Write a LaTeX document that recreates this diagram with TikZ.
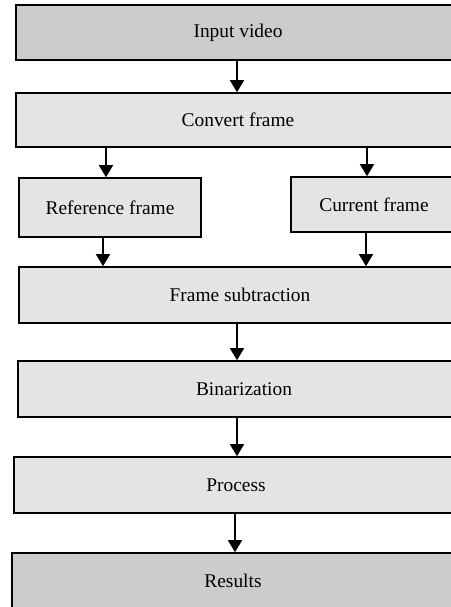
\documentclass[tikz,border=0pt]{standalone}
\usepackage{fontspec}
\setmainfont{Liberation Serif}
\usetikzlibrary{arrows.meta, positioning, calc}
\definecolor{darkbox}{RGB}{204,204,204}
\definecolor{lightbox}{RGB}{228,228,228}

\begin{document}
\begin{tikzpicture}[x=0.5pt,y=-0.5pt,
  box/.style={draw, line width=0.8pt, fill=lightbox, inner sep=0pt, font=\fontsize{9.7}{11}\selectfont},
  endbox/.style={box, fill=darkbox},
  arr/.style={-{Triangle[width=7pt,length=6pt]}, line width=0.7pt}]
\useasboundingbox (0,0) rectangle (451,607);
\clip (0,0) rectangle (451,607);

\node[endbox, minimum width=222pt, minimum height=27.5pt] (Inp) at (238,32.5) {Input video};
\node[box, minimum width=222pt, minimum height=27pt] (Conv) at (238,120) {Convert frame};
\node[box, minimum width=91pt, minimum height=29.5pt] (Ref) at (110,207.5) {Reference frame};
\node[box, minimum width=83pt, minimum height=27.5pt] (Cur) at (374,204.5) {Current frame};
\node[box, minimum width=221pt, minimum height=28pt] (Sub) at (240,295) {Frame subtraction};
\node[box, minimum width=226pt, minimum height=28pt] (Bin) at (244,389) {Binarization};
\node[box, minimum width=222pt, minimum height=28pt] (Proc) at (236,485) {Process};
\node[endbox, minimum width=221pt, minimum height=28pt] (Res) at (233,581) {Results};

\draw[arr] (Inp.south -| 237,0) -- (Conv.north -| 237,0);
\draw[arr] (Conv.south -| 106,0) -- (Ref.north -| 106,0);
\draw[arr] (Conv.south -| 367,0) -- (Cur.north -| 367,0);
\draw[arr] (Ref.south -| 103,0) -- (Sub.north -| 103,0);
\draw[arr] (Cur.south -| 366,0) -- (Sub.north -| 366,0);
\draw[arr] (Sub.south -| 237,0) -- (Bin.north -| 237,0);
\draw[arr] (Bin.south -| 237,0) -- (Proc.north -| 237,0);
\draw[arr] (Proc.south -| 235,0) -- (Res.north -| 235,0);
\end{tikzpicture}
\end{document}
